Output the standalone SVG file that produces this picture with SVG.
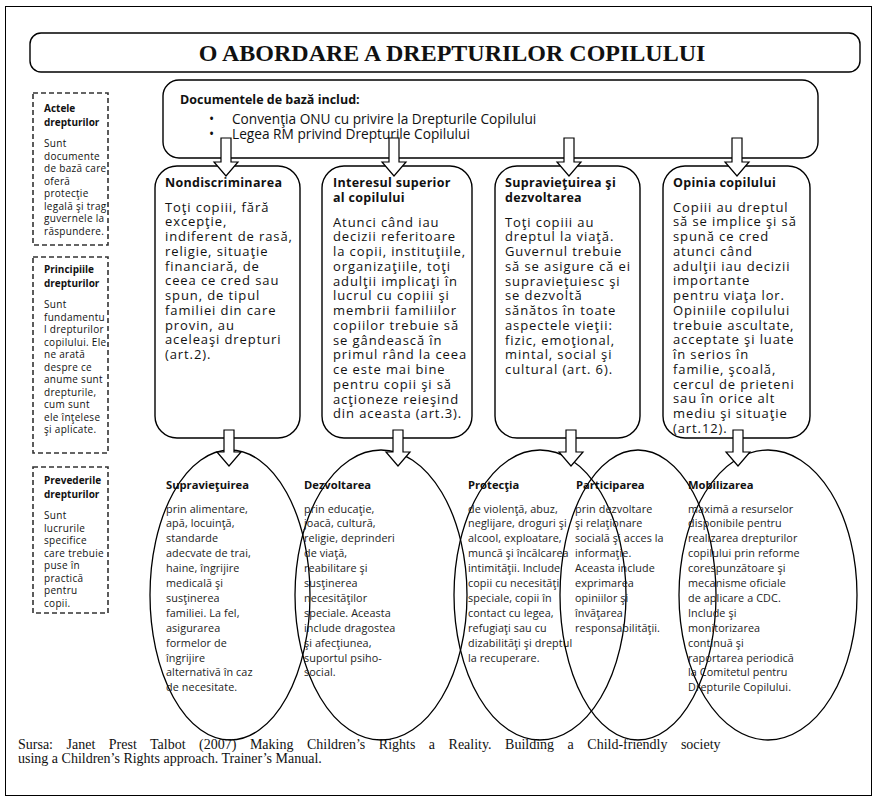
<svg xmlns="http://www.w3.org/2000/svg" width="880" height="803" viewBox="0 0 880 803">
<style>
.frame{fill:none;stroke:#000;stroke-width:1}
.bx{fill:#fff;stroke:#000;stroke-width:1.4}
.dash{fill:#fff;stroke:#333;stroke-width:1.6;stroke-dasharray:5 3}
.arr{fill:#fff;stroke:#000;stroke-width:1.2}
.ell{fill:none;stroke:#000;stroke-width:1.3}
.ttl{font-family:"Liberation Serif","Times New Roman",serif;font-weight:bold;font-size:24px;fill:#111}
.dh{font-family:"Open Sans",sans-serif;font-weight:bold;font-size:12.5px;fill:#111}
.dt{font-family:"Open Sans",sans-serif;font-size:13.7px;fill:#111}
.h{font-family:"Open Sans",sans-serif;font-weight:bold;font-size:12.5px;letter-spacing:0.3px;fill:#111}
.t{font-family:"Open Sans",sans-serif;font-size:13px;letter-spacing:0.9px;fill:#111}
.eh{font-family:"Open Sans",sans-serif;font-weight:bold;font-size:11.2px;fill:#111}
.et{font-family:"Open Sans",sans-serif;font-size:10.8px;letter-spacing:0.1px;fill:#222}
.lh{font-family:"Open Sans",sans-serif;font-weight:bold;font-size:10px;fill:#111}
.lt{font-family:"Open Sans",sans-serif;font-size:10px;letter-spacing:0.3px;fill:#111}
.ft{font-family:"Liberation Serif","Times New Roman",serif;font-size:14px;fill:#111}
</style>
<rect class="frame" x="5.5" y="6.5" width="866" height="789"/>
<g id="title">
<rect class="bx" x="30" y="33" width="830" height="39" rx="11"/>
<text class="ttl" x="452" y="61" text-anchor="middle">O ABORDARE A DREPTURILOR COPILULUI</text>
</g>
<g id="documents">
<rect class="bx" x="163" y="80" width="655" height="78" rx="16"/>
<text class="dh" x="180" y="104">Documentele de bază includ:</text>
<text class="dt" x="209" y="124">•</text>
<text class="dt" x="232" y="124">Convenţia ONU cu privire la Drepturile Copilului</text>
<text class="dt" x="209" y="139">•</text>
<text class="dt" x="232" y="139">Legea RM privind Drepturile Copilului</text>
</g>
<g id="left-acts">
<rect class="dash" x="33" y="93" width="75" height="152"/>
<text class="lh" x="44" y="112"><tspan x="44">Actele</tspan><tspan x="44" dy="14">drepturilor</tspan></text>
<text class="lt" x="44" y="147"><tspan x="44">Sunt</tspan><tspan x="44" dy="12.5">documente</tspan><tspan x="44" dy="12.5">de bază care</tspan><tspan x="44" dy="12.5">oferă</tspan><tspan x="44" dy="12.5">protecţie</tspan><tspan x="44" dy="12.5">legală şi trag</tspan><tspan x="44" dy="12.5">guvernele la</tspan><tspan x="44" dy="12.5">răspundere.</tspan></text>
</g>
<g id="left-principles">
<rect class="dash" x="33" y="257" width="75" height="196"/>
<text class="lh" x="44" y="273"><tspan x="44">Principiile</tspan><tspan x="44" dy="14">drepturilor</tspan></text>
<text class="lt" x="44" y="308"><tspan x="44">Sunt</tspan><tspan x="44" dy="12.5">fundamentu</tspan><tspan x="44" dy="12.5">l drepturilor</tspan><tspan x="44" dy="12.5">copilului. Ele</tspan><tspan x="44" dy="12.5">ne arată</tspan><tspan x="44" dy="12.5">despre ce</tspan><tspan x="44" dy="12.5">anume sunt</tspan><tspan x="44" dy="12.5">drepturile,</tspan><tspan x="44" dy="12.5">cum sunt</tspan><tspan x="44" dy="12.5">ele înţelese</tspan><tspan x="44" dy="12.5">şi aplicate.</tspan></text>
</g>
<g id="left-provisions">
<rect class="dash" x="33" y="467" width="75" height="146"/>
<text class="lh" x="44" y="484"><tspan x="44">Prevederile</tspan><tspan x="44" dy="14">drepturilor</tspan></text>
<text class="lt" x="44" y="519"><tspan x="44">Sunt</tspan><tspan x="44" dy="12.5">lucrurile</tspan><tspan x="44" dy="12.5">specifice</tspan><tspan x="44" dy="12.5">care trebuie</tspan><tspan x="44" dy="12.5">puse în</tspan><tspan x="44" dy="12.5">practică</tspan><tspan x="44" dy="12.5">pentru</tspan><tspan x="44" dy="12.5">copii.</tspan></text>
</g>
<g id="box-nondiscrimination">
<rect class="bx" x="155" y="166" width="145" height="272" rx="22"/>
<text class="h" x="165" y="187">Nondiscriminarea</text>
<text class="t" x="165" y="211.5"><tspan x="165">Toţi copiii, fără</tspan><tspan x="165" dy="14.75">excepţie,</tspan><tspan x="165" dy="14.75">indiferent de rasă,</tspan><tspan x="165" dy="14.75">religie, situaţie</tspan><tspan x="165" dy="14.75">financiară, de</tspan><tspan x="165" dy="14.75">ceea ce cred sau</tspan><tspan x="165" dy="14.75">spun, de tipul</tspan><tspan x="165" dy="14.75">familiei din care</tspan><tspan x="165" dy="14.75">provin, au</tspan><tspan x="165" dy="14.75">aceleaşi drepturi</tspan><tspan x="165" dy="14.75">(art.2).</tspan></text>
</g>
<g id="box-best-interest">
<rect class="bx" x="322" y="166" width="150" height="272" rx="22"/>
<text class="h" x="333" y="187"><tspan x="333">Interesul superior</tspan><tspan x="333" dy="15">al copilului</tspan></text>
<text class="t" x="333" y="226.5"><tspan x="333">Atunci când iau</tspan><tspan x="333" dy="14.75">decizii referitoare</tspan><tspan x="333" dy="14.75">la copii, instituţiile,</tspan><tspan x="333" dy="14.75">organizaţiile, toţi</tspan><tspan x="333" dy="14.75">adulţii implicaţi în</tspan><tspan x="333" dy="14.75">lucrul cu copiii şi</tspan><tspan x="333" dy="14.75">membrii familiilor</tspan><tspan x="333" dy="14.75">copiilor trebuie să</tspan><tspan x="333" dy="14.75">se gândească în</tspan><tspan x="333" dy="14.75">primul rând la ceea</tspan><tspan x="333" dy="14.75">ce este mai bine</tspan><tspan x="333" dy="14.75">pentru copii şi să</tspan><tspan x="333" dy="14.75">acţioneze reieşind</tspan><tspan x="333" dy="14.75">din aceasta (art.3).</tspan></text>
</g>
<g id="box-survival-development">
<rect class="bx" x="495" y="166" width="145" height="272" rx="22"/>
<text class="h" x="505" y="187"><tspan x="505">Supravieţuirea şi</tspan><tspan x="505" dy="15">dezvoltarea</tspan></text>
<text class="t" x="505" y="226.5"><tspan x="505">Toţi copiii au</tspan><tspan x="505" dy="14.75">dreptul la viaţă.</tspan><tspan x="505" dy="14.75">Guvernul trebuie</tspan><tspan x="505" dy="14.75">să se asigure că ei</tspan><tspan x="505" dy="14.75">supravieţuiesc şi</tspan><tspan x="505" dy="14.75">se dezvoltă</tspan><tspan x="505" dy="14.75">sănătos în toate</tspan><tspan x="505" dy="14.75">aspectele vieţii:</tspan><tspan x="505" dy="14.75">fizic, emoţional,</tspan><tspan x="505" dy="14.75">mintal, social şi</tspan><tspan x="505" dy="14.75">cultural (art. 6).</tspan></text>
</g>
<g id="box-opinion">
<rect class="bx" x="663" y="166" width="147" height="272" rx="22"/>
<text class="h" x="673" y="187">Opinia copilului</text>
<text class="t" x="673" y="211.5"><tspan x="673">Copiii au dreptul</tspan><tspan x="673" dy="14.75">să se implice şi să</tspan><tspan x="673" dy="14.75">spună ce cred</tspan><tspan x="673" dy="14.75">atunci când</tspan><tspan x="673" dy="14.75">adulţii iau decizii</tspan><tspan x="673" dy="14.75">importante</tspan><tspan x="673" dy="14.75">pentru viaţa lor.</tspan><tspan x="673" dy="14.75">Opiniile copilului</tspan><tspan x="673" dy="14.75">trebuie ascultate,</tspan><tspan x="673" dy="14.75">acceptate şi luate</tspan><tspan x="673" dy="14.75">în serios în</tspan><tspan x="673" dy="14.75">familie, şcoală,</tspan><tspan x="673" dy="14.75">cercul de prieteni</tspan><tspan x="673" dy="14.75">sau în orice alt</tspan><tspan x="673" dy="14.75">mediu şi situaţie</tspan><tspan x="673" dy="14.75">(art.12).</tspan></text>
</g>
<g id="ell-survival">
<ellipse class="ell" cx="230" cy="595" rx="80" ry="145"/>
<text class="eh" x="166" y="489">Supravieţuirea</text>
<text class="et" x="166" y="512.5"><tspan x="166">prin alimentare,</tspan><tspan x="166" dy="14.9">apă, locuinţă,</tspan><tspan x="166" dy="14.9">standarde</tspan><tspan x="166" dy="14.9">adecvate de trai,</tspan><tspan x="166" dy="14.9">haine, îngrijire</tspan><tspan x="166" dy="14.9">medicală şi</tspan><tspan x="166" dy="14.9">susţinerea</tspan><tspan x="166" dy="14.9">familiei. La fel,</tspan><tspan x="166" dy="14.9">asigurarea</tspan><tspan x="166" dy="14.9">formelor de</tspan><tspan x="166" dy="14.9">îngrijire</tspan><tspan x="166" dy="14.9">alternativă în caz</tspan><tspan x="166" dy="14.9">de necesitate.</tspan></text>
</g>
<g id="ell-development">
<ellipse class="ell" cx="381" cy="595" rx="86" ry="145"/>
<text class="eh" x="304" y="489">Dezvoltarea</text>
<text class="et" x="304" y="512.5"><tspan x="304">prin educaţie,</tspan><tspan x="304" dy="14.9">joacă, cultură,</tspan><tspan x="304" dy="14.9">religie, deprinderi</tspan><tspan x="304" dy="14.9">de viaţă,</tspan><tspan x="304" dy="14.9">reabilitare şi</tspan><tspan x="304" dy="14.9">susţinerea</tspan><tspan x="304" dy="14.9">necesităţilor</tspan><tspan x="304" dy="14.9">speciale. Aceasta</tspan><tspan x="304" dy="14.9">include dragostea</tspan><tspan x="304" dy="14.9">şi afecţiunea,</tspan><tspan x="304" dy="14.9">suportul psiho-</tspan><tspan x="304" dy="14.9">social.</tspan></text>
</g>
<g id="ell-protection">
<ellipse class="ell" cx="540" cy="595" rx="86" ry="145"/>
<text class="eh" x="468" y="489">Protecţia</text>
<text class="et" x="468" y="512.5"><tspan x="468">de violenţă, abuz,</tspan><tspan x="468" dy="14.9">neglijare, droguri şi</tspan><tspan x="468" dy="14.9">alcool, exploatare,</tspan><tspan x="468" dy="14.9">muncă şi încălcarea</tspan><tspan x="468" dy="14.9">intimităţii. Include</tspan><tspan x="468" dy="14.9">copii cu necesităţi</tspan><tspan x="468" dy="14.9">speciale, copii în</tspan><tspan x="468" dy="14.9">contact cu legea,</tspan><tspan x="468" dy="14.9">refugiaţi sau cu</tspan><tspan x="468" dy="14.9">dizabilităţi şi dreptul</tspan><tspan x="468" dy="14.9">la recuperare.</tspan></text>
</g>
<g id="ell-participation">
<ellipse class="ell" cx="638" cy="595" rx="78" ry="145"/>
<text class="eh" x="576" y="489">Participarea</text>
<text class="et" x="575" y="512.5"><tspan x="575">prin dezvoltare</tspan><tspan x="575" dy="14.9">şi relaţionare</tspan><tspan x="575" dy="14.9">socială şi acces la</tspan><tspan x="575" dy="14.9">informaţie.</tspan><tspan x="575" dy="14.9">Aceasta include</tspan><tspan x="575" dy="14.9">exprimarea</tspan><tspan x="575" dy="14.9">opiniilor şi</tspan><tspan x="575" dy="14.9">învăţarea</tspan><tspan x="575" dy="14.9">responsabilităţii.</tspan></text>
</g>
<g id="ell-mobilization">
<ellipse class="ell" cx="768" cy="595" rx="89" ry="145"/>
<text class="eh" x="688" y="489">Mobilizarea</text>
<text class="et" x="688" y="512.5"><tspan x="688">maximă a resurselor</tspan><tspan x="688" dy="14.9">disponibile pentru</tspan><tspan x="688" dy="14.9">realizarea drepturilor</tspan><tspan x="688" dy="14.9">copilului prin reforme</tspan><tspan x="688" dy="14.9">corespunzătoare şi</tspan><tspan x="688" dy="14.9">mecanisme oficiale</tspan><tspan x="688" dy="14.9">de aplicare a CDC.</tspan><tspan x="688" dy="14.9">Include şi</tspan><tspan x="688" dy="14.9">monitorizarea</tspan><tspan x="688" dy="14.9">continuă şi</tspan><tspan x="688" dy="14.9">raportarea periodică</tspan><tspan x="688" dy="14.9">la Comitetul pentru</tspan><tspan x="688" dy="14.9">Drepturile Copilului.</tspan></text>
</g>
<g id="connectors">
<path class="arr" d="M221,138 H231 V162 H238 L226,176 L214,162 H221 Z"/>
<path class="arr" d="M389,138 H399 V162 H406 L394,176 L382,162 H389 Z"/>
<path class="arr" d="M564,138 H574 V162 H581 L569,176 L557,162 H564 Z"/>
<path class="arr" d="M732,138 H742 V162 H749 L737,176 L725,162 H732 Z"/>
<path class="arr" d="M224,430 H234 V452 H241 L229,466 L217,452 H224 Z"/>
<path class="arr" d="M393,430 H403 V452 H410 L398,466 L386,452 H393 Z"/>
<path class="arr" d="M566,430 H576 V452 H583 L571,466 L559,452 H566 Z"/>
<path class="arr" d="M733,430 H743 V452 H750 L738,466 L726,452 H733 Z"/>
</g>
<g id="footer">
<text class="ft" x="18" y="749" word-spacing="10">Sursa: Janet Prest Talbot (2007) Making Children’s Rights a Reality. Building a Child-friendly society</text>
<text class="ft" x="18" y="763">using a Children’s Rights approach. Trainer’s Manual.</text>
</g>
</svg>
